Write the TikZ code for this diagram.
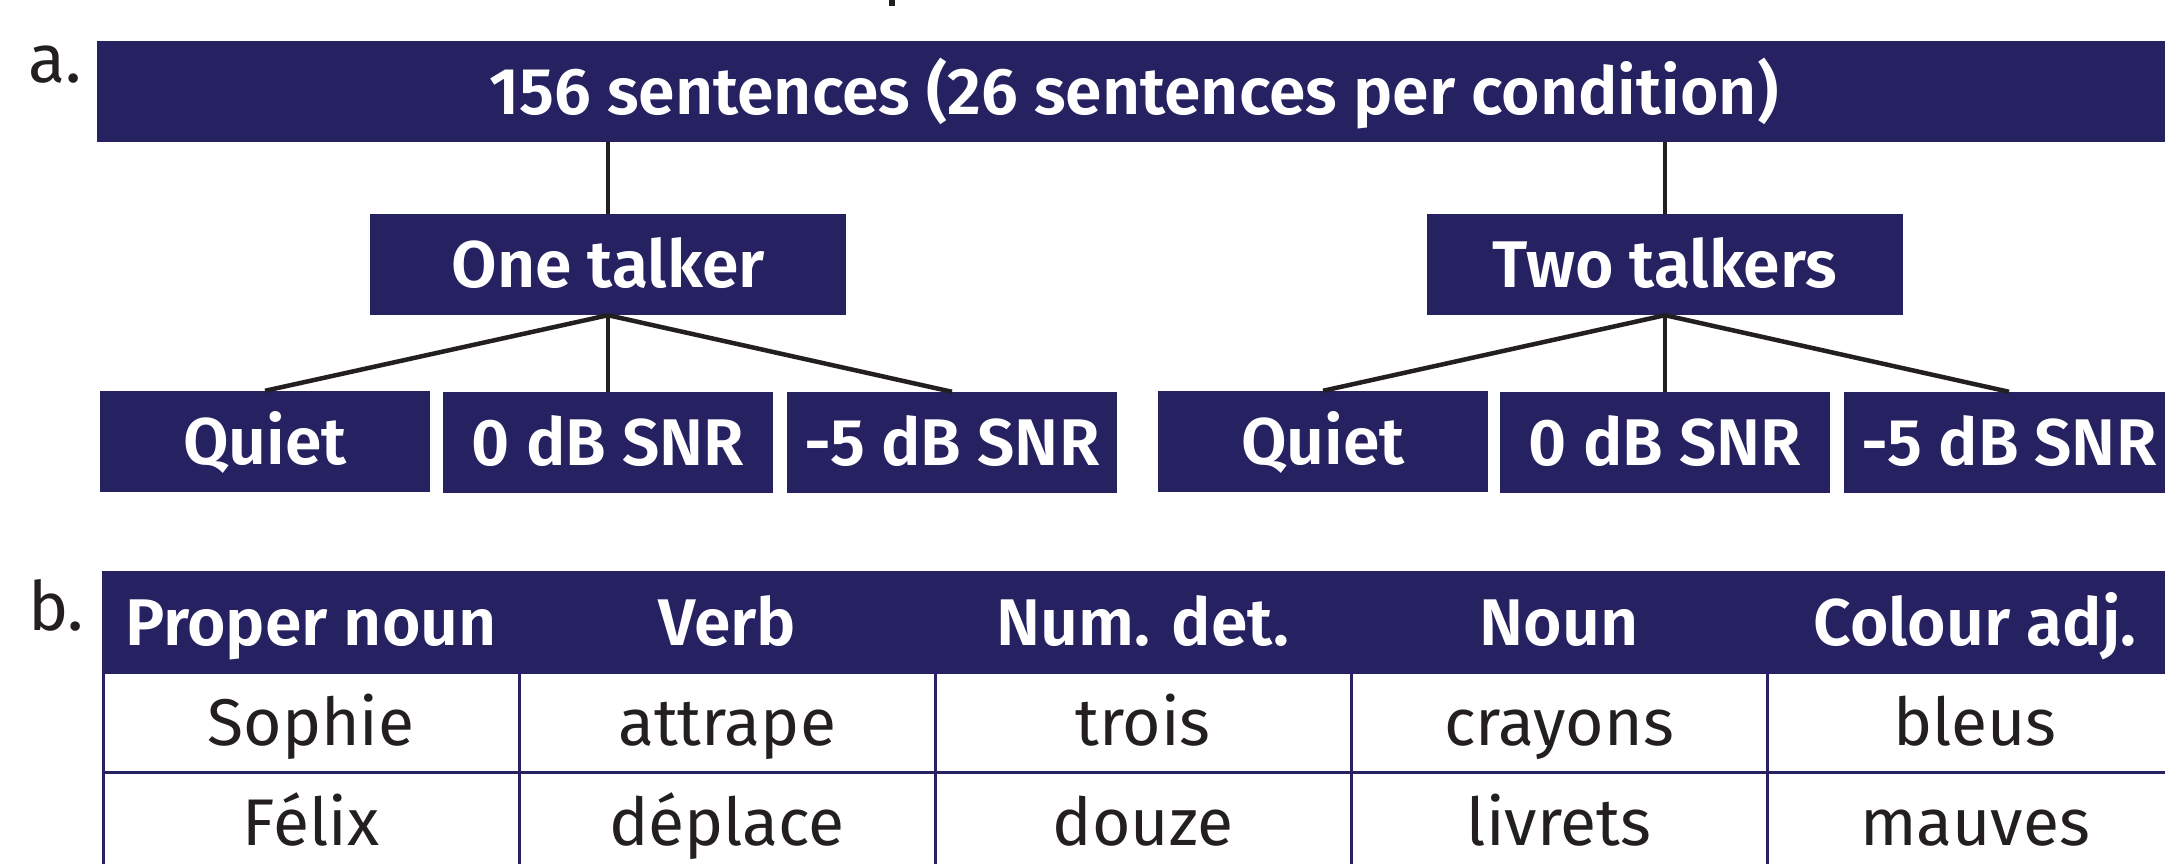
\documentclass[tikz,border=0pt]{standalone}
\usepackage{fontspec}
\setmainfont{Fira Sans}
\newfontfamily\semib{Fira Sans SemiBold}
\definecolor{navy}{HTML}{262262}
\definecolor{ink}{HTML}{231F20}
\begin{document}
\begin{tikzpicture}[x=1pt,y=-1pt,
  box/.style={fill=navy, text=white, inner sep=0pt, minimum height=101pt,
    text height=46pt, text depth=0pt, font=\semib\fontsize{66}{66}\selectfont},
  hcell/.style={fill=navy, draw=navy, line width=3pt, text=white, inner sep=0pt,
    minimum width=416pt, minimum height=100pt, text height=46pt, text depth=0pt,
    font=\semib\fontsize{66}{66}\selectfont},
  bcell/.style={draw=navy, line width=3pt, text=ink, inner sep=0pt,
    minimum width=416pt, minimum height=100pt, text height=46pt, text depth=0pt,
    font=\fontsize{66}{66}\selectfont},
  lab/.style={text=ink, inner sep=0pt, anchor=base west, font=\fontsize{68}{68}\selectfont},
  conn/.style={draw=ink, line width=4.5pt}
]
\clip (0,0) rectangle (2165,863);
\fill[white] (0,0) rectangle (2165,863);
\fill[ink] (889,0) rectangle (895,6);
% panel a
\node[lab] (la) at (28,82) {a.};
\node[box, minimum width=2074pt] (top) at (1134,91) {156 sentences (26 sentences per condition)};
\node[box, minimum width=476pt] (one) at (608,264.5) {One talker};
\node[box, minimum width=476pt] (two) at (1665,264.5) {Two talkers};
\node[box, minimum width=330pt] (q1) at (265,441.5) {Quiet};
\node[box, minimum width=330pt] (z1) at (608,442.5) {0 dB SNR};
\node[box, minimum width=330pt] (m1) at (952,442.5) {-5 dB SNR};
\node[box, minimum width=330pt] (q2) at (1323,441.5) {Quiet};
\node[box, minimum width=330pt] (z2) at (1665,442.5) {0 dB SNR};
\node[box, minimum width=330pt] (m2) at (2009,442.5) {-5 dB SNR};
\draw[conn] (top.south -| one.north) -- (one.north);
\draw[conn] (top.south -| two.north) -- (two.north);
\draw[conn] (one.south) -- (q1.north);
\draw[conn] (one.south) -- (z1.north);
\draw[conn] (one.south) -- (m1.north);
\draw[conn] (two.south) -- (q2.north);
\draw[conn] (two.south) -- (z2.north);
\draw[conn] (two.south) -- (m2.north);
% panel b
\node[lab] (lb) at (28,630) {b.};
\node[hcell] (h1) at (311,622) {Proper noun};
\node[hcell] (h2) at (727,622) {Verb};
\node[hcell] (h3) at (1143,622) {Num. det.};
\node[hcell] (h4) at (1559,622) {Noun};
\node[hcell] (h5) at (1975,622) {Colour adj.};
\node[bcell] (a1) at (311,722) {Sophie};
\node[bcell] (a2) at (727,722) {attrape};
\node[bcell] (a3) at (1143,722) {trois};
\node[bcell] (a4) at (1559,722) {crayons};
\node[bcell] (a5) at (1975,722) {bleus};
\node[bcell] (b1) at (311,822) {Félix};
\node[bcell] (b2) at (727,822) {déplace};
\node[bcell] (b3) at (1143,822) {douze};
\node[bcell] (b4) at (1559,822) {livrets};
\node[bcell] (b5) at (1975,822) {mauves};
\end{tikzpicture}
\end{document}
